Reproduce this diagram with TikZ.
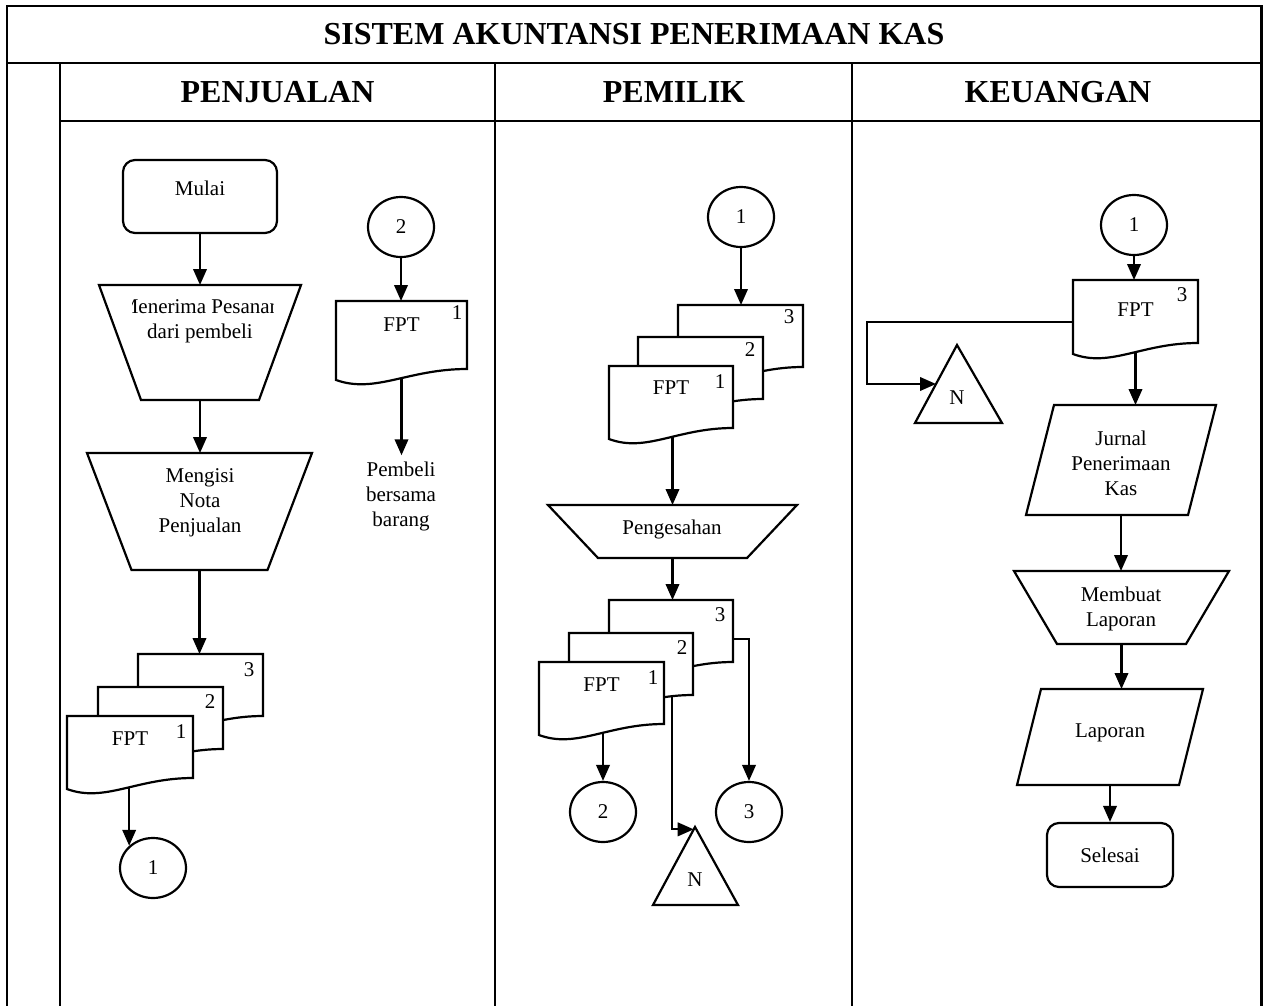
\documentclass[tikz,border=0pt]{standalone}
\usepackage{fontspec}
\setmainfont{Liberation Serif}
\usetikzlibrary{arrows.meta,calc,shapes.geometric}
\pgfdeclarelayer{bg}\pgfdeclarelayer{fg}\pgfsetlayers{bg,main,fg}
\tikzset{
 ln/.style={line width=2.2pt},
 shp/.style={line width=2.2pt, fill=white, line join=miter},
 arr/.style={line width=2.2pt, -{Triangle[length=16pt,width=13.5pt]}},
 ph/.style={inner sep=0pt, outer sep=0pt, draw=none},
 tx/.style={inner sep=0pt, align=center, font=\fontsize{21}{25}\selectfont},
 hd/.style={inner sep=0pt, font=\fontsize{32}{37}\selectfont\bfseries},
 conn/.style={ellipse, draw, line width=2.2pt, fill=white, minimum width=66pt, minimum height=60pt, inner sep=0pt, font=\fontsize{21}{25}\selectfont},
 term/.style={rectangle, rounded corners=12pt, draw, line width=2.2pt, fill=white, inner sep=0pt, font=\fontsize{21}{25}\selectfont},
 docn/.style={ph, minimum width=125pt, minimum height=73pt},
}
\newcommand\trapz[2]{\draw[shp] (#1.north west) -- (#1.north east) -- ([xshift=-#2pt]#1.south east) -- ([xshift=#2pt]#1.south west) -- cycle;}
\newcommand\paral[2]{\draw[shp] ([xshift=#2pt]#1.north west) -- (#1.north east) -- ([xshift=-#2pt]#1.south east) -- (#1.south west) -- cycle;}
\newcommand\docshp[1]{\draw[shp] (#1.north west) -- (#1.north east) -- ([yshift=11pt]#1.south east) .. controls ($(#1.south west)!0.55!(#1.south east)+(0,-11)$) and ($(#1.south west)!0.3!(#1.south east)+(0,14)$) .. (#1.south west) -- cycle;}
\begin{document}
\begin{tikzpicture}[x=1pt,y=-1pt]
\useasboundingbox (0,0) rectangle (1263,1006);
% ---------- table ----------
\coordinate (tl) at (7,6);
\coordinate (tr) at (1261.5,6);
\draw[ln] (7,1006) -- (tl) -- (tr) -- (1261.5,1006);
\draw[ln] (7,63) -- (1261.5,63);
\draw[ln] (60,121) -- (1261.5,121);
\draw[ln] (60,63) -- (60,1006);
\draw[ln] (495,63) -- (495,1006);
\draw[ln] (852,63) -- (852,1006);
\node[hd] (title) at (634,34) {SISTEM AKUNTANSI PENERIMAAN KAS};
\node[hd] (hpenj) at (277.5,92) {PENJUALAN};
\node[hd] (hpem) at (674,92) {PEMILIK};
\node[hd] (hkeu) at (1058,92) {KEUANGAN};

\begin{pgfonlayer}{fg}
% ---------- lane 1 ----------
\node[term, minimum width=154pt, minimum height=73pt] (mulai) at (200,196.5) {};
\node[tx] (mulaiT) at (200,188) {Mulai};
\node[ph, minimum width=202pt, minimum height=115pt] (trap1) at (200,342.5) {};
\begin{scope}
\clip (132,290) rectangle (273,360);
\node[tx] (trap1T) at (200,321.5) {Menerima Pesanan\\dari pembeli};
\end{scope}
\node[ph, minimum width=225pt, minimum height=117pt] (trap2) at (199.5,511.5) {};
\node[tx] (trap2T) at (200,503) {Mengisi\\Nota\\Penjualan};
\node[docn] (dA3) at (200.5,690.5) {};
\node[docn] (dA2) at (160.5,723.5) {};
\node[docn, minimum width=126pt] (dA1) at (130,752.5) {};
\node[tx] (dA3n) at ($(dA3.north east)+(-14,16)$) {3};
\node[tx] (dA2n) at ($(dA2.north east)+(-13,15)$) {2};
\node[tx] (dA1n) at ($(dA1.north east)+(-12,16)$) {1};
\node[tx] (dA1t) at ($(dA1.north)+(0,23)$) {FPT};
\node[conn] (c1A) at (153,868) {1};
\node[conn] (c2A) at (401,227) {2};
\node[docn, minimum width=131pt, minimum height=79pt] (dS) at (401.5,340.5) {};
\node[tx] (dSt) at ($(dS.north)+(0,24)$) {FPT};
\node[tx] (dSn) at ($(dS.north east)+(-10,12)$) {1};
\node[tx] (pemb) at (401,496) {Pembeli\\bersama\\barang};
% ---------- lane 2 ----------
\node[conn] (c1B) at (741,217) {1};
\node[docn] (dB3) at (740.5,341.5) {};
\node[docn] (dB2) at (700.5,373.5) {};
\node[docn, minimum width=124pt] (dB1) at (671,402.5) {};
\node[tx] (dB3n) at ($(dB3.north east)+(-14,12)$) {3};
\node[tx] (dB2n) at ($(dB2.north east)+(-13,13)$) {2};
\node[tx] (dB1n) at ($(dB1.north east)+(-13,16)$) {1};
\node[tx] (dB1t) at ($(dB1.north)+(0,22)$) {FPT};
\node[ph, minimum width=249pt, minimum height=53pt] (pg) at (672.5,531.5) {};
\node[tx] (pgT) at (672,529) {Pengesahan};
\node[docn, minimum width=124pt] (dC3) at (671,636.5) {};
\node[docn, minimum width=124pt] (dC2) at (631,669.5) {};
\node[docn] (dC1) at (601.5,698.5) {};
\node[tx] (dC3n) at ($(dC3.north east)+(-13,15)$) {3};
\node[tx] (dC2n) at ($(dC2.north east)+(-11,15)$) {2};
\node[tx] (dC1n) at ($(dC1.north east)+(-11,16)$) {1};
\node[tx] (dC1t) at ($(dC1.north)+(0,23)$) {FPT};
\node[conn] (c2B) at (603,812) {2};
\node[conn] (c3B) at (749,812) {3};
\node[tx] (nB) at (695,880) {N};
\coordinate (nBtop) at ($(nB)+(0,-53)$);
\coordinate (nBbl) at ($(nB)+(-42,25)$);
\coordinate (nBbr) at ($(nB)+(43,25)$);
\coordinate (nBin) at ($(nBtop)!0.03!(nBbl)$);
% ---------- lane 3 ----------
\node[conn] (c1C) at (1134,225) {1};
\node[docn, minimum height=74pt] (dD) at (1135.5,317) {};
\node[tx] (dDt) at ($(dD.north)+(0,30)$) {FPT};
\node[tx] (dDn) at ($(dD.north east)+(-16,15)$) {3};
\node[tx] (nC) at (957,398) {N};
\coordinate (nCtop) at ($(nC)+(0,-53)$);
\coordinate (nCbl) at ($(nC)+(-42,25)$);
\coordinate (nCbr) at ($(nC)+(45,25)$);
\coordinate (nCin) at ($(nCtop)!0.5!(nCbl)$);
\coordinate (loopx) at (867,0);
\node[ph, minimum width=190pt, minimum height=110pt] (jur) at (1121,460) {};
\node[tx] (jurT) at (1121,463) {Jurnal\\Penerimaan\\Kas};
\node[ph, minimum width=215pt, minimum height=73pt] (mbl) at (1121.5,607.5) {};
\node[tx] (mblT) at (1121,609) {Membuat\\Laporan};
\node[ph, minimum width=186pt, minimum height=96pt] (lap) at (1110,737) {};
\node[tx] (lapT) at (1110,733) {Laporan};
\node[term, minimum width=126pt, minimum height=64pt] (sel) at (1110,855) {Selesai};
\end{pgfonlayer}

% ---------- shapes ----------
\trapz{trap1}{42}
\trapz{trap2}{44.5}
\docshp{dA3}\docshp{dA2}\docshp{dA1}
\docshp{dS}
\docshp{dB3}\docshp{dB2}\docshp{dB1}
\trapz{pg}{50}
\docshp{dC3}\docshp{dC2}\docshp{dC1}
\draw[shp] (nBtop) -- (nBbr) -- (nBbl) -- cycle;
\docshp{dD}
\draw[shp] (nCtop) -- (nCbr) -- (nCbl) -- cycle;
\paral{jur}{28}
\trapz{mbl}{43}
\paral{lap}{24}

% ---------- connectors ----------
\begin{pgfonlayer}{bg}
\draw[arr] (mulai.south) -- (trap1.north);
\draw[arr] (trap1.south) -- (trap1.south |- trap2.north);
\draw[arr] (trap2.south) -- (trap2.south |- dA3.north);
\draw[arr] (c1A.137 |- dA1.center) -- (c1A.137);
\draw[arr] (c2A.south) -- (c2A.south |- dS.north);
\draw[arr] (dS.center) -- ($(dS.center |- pemb.north)+(0,-6)$);
\draw[arr] (c1B.south) -- (c1B.south |- dB3.north);
\draw[arr] (pg.north |- dB1.center) -- (pg.north);
\draw[arr] (pg.south) -- (pg.south |- dC3.north);
\draw[arr] (c2B.north |- dC1.center) -- (c2B.north);
\draw[arr] ([yshift=-2.5pt]dC3.east) -| (c3B.north);
\draw[arr] ([xshift=41pt]dC2.center) |- (nBin);
\draw[arr] (c1C.south) -- (c1C.south |- dD.north);
\draw[arr] ([yshift=-5pt]dD.west) -| (loopx |- nCin) -- (nCin);
\draw[arr] (dD.center) -- (dD.center |- jur.north);
\draw[arr] (jur.south) -- (jur.south |- mbl.north);
\draw[arr] (mbl.south) -- (mbl.south |- lap.north);
\draw[arr] (lap.south) -- (sel.north);
\end{pgfonlayer}
\end{tikzpicture}
\end{document}
